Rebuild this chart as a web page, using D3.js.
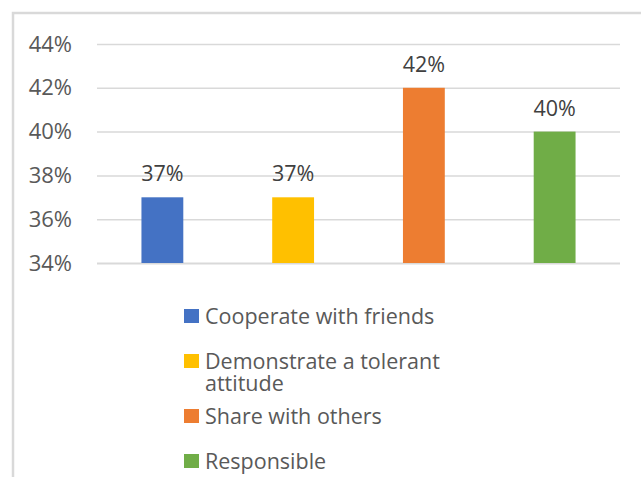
<!DOCTYPE html>
<html lang="en">
<head>
    <meta charset="UTF-8">
    <script src="https://d3js.org/d3.v7.min.js"></script>
    <style>
        body {margin: 0; background-color: #ffffff;}
        svg {display: block; font-family: "Open Sans", sans-serif;}
    </style>
</head>
<body>
<svg class="chart"></svg>
<script type="text/javascript">
    const categories = ["Cooperate with friends", "Demonstrate a tolerant attitude", "Share with others", "Responsible"];
    const values = [37, 37, 42, 40];
    const colors = ["#4472C4", "#FFC000", "#ED7D31", "#70AD47"];
    const yTicks = [34, 36, 38, 40, 42, 44];
    // legend text as it wraps in the picture
    const legendLines = [["Cooperate with friends"], ["Demonstrate a tolerant", "attitude"], ["Share with others"], ["Responsible"]];

    let width = 641;
    let height = 477;
    let plotLeft = 97, plotRight = 620, plotTop = 44, plotBottom = 263;

    var svg = d3.select(".chart")
        .attr("width", width)
        .attr("height", height);

    // frame
    svg.append("path")
        .attr("d", "M13," + height + " L13,13 L" + width + ",13")
        .attr("fill", "none")
        .attr("stroke", "#d9d9d9")
        .attr("stroke-width", 2.5);

    var x = d3.scaleBand()
        .domain(categories)
        .range([plotLeft, plotRight])
        .paddingInner(0.68)
        .paddingOuter(0.34);

    var y = d3.scaleLinear()
        .domain([34, 44])
        .range([plotBottom, plotTop]);

    var yAxis = svg.append("g")
        .attr("transform", "translate(" + plotLeft + ",0)")
        .call(d3.axisLeft(y)
            .tickValues(yTicks)
            .tickSize(-(plotRight - plotLeft))
            .tickPadding(25)
            .tickFormat(d => d + "%"));

    yAxis.select(".domain").remove();
    yAxis.selectAll(".tick line")
        .attr("stroke", "#d9d9d9")
        .attr("stroke-width", d => d === 34 ? 2 : 1.5);
    yAxis.selectAll(".tick text")
        .attr("fill", "#595959")
        .attr("font-size", "22px")
        .attr("font-family", "\"Open Sans\", sans-serif");

    svg.selectAll(".bar")
        .data(values)
        .enter()
        .append("rect")
        .attr("class", "bar")
        .attr("x", (d, i) => x(categories[i]))
        .attr("width", x.bandwidth())
        .attr("y", d => y(d))
        .attr("height", d => y(34) - y(d))
        .attr("fill", (d, i) => colors[i]);

    svg.selectAll(".value")
        .data(values)
        .enter()
        .append("text")
        .attr("class", "value")
        .attr("x", (d, i) => x(categories[i]) + x.bandwidth() / 2)
        .attr("y", d => y(d) - 16)
        .attr("text-anchor", "middle")
        .attr("fill", "#404040")
        .attr("font-size", "21.5px")
        .text(d => d + "%");

    // legend rows: fixed step, plus some room for each wrapped line
    let rowStep = 45, wrapExtra = 10, lineHeight = 22;
    let legendPos = [];
    let cy = 324;
    legendLines.forEach((lines, i) => {
        legendPos.push(cy);
        cy += rowStep + (lines.length - 1) * wrapExtra;
    });

    var legend = svg.selectAll(".legend")
        .data(categories)
        .enter()
        .append("g")
        .attr("class", "legend")
        .attr("transform", (d, i) => "translate(184," + legendPos[i] + ")");

    legend.append("rect")
        .attr("x", 0)
        .attr("y", -15)
        .attr("width", 15)
        .attr("height", 14)
        .attr("fill", (d, i) => colors[i]);

    legend.each(function (d, i) {
        var t = d3.select(this).append("text")
            .attr("x", 21)
            .attr("y", 0)
            .attr("fill", "#595959")
            .attr("font-size", "21.5px");
        legendLines[i].forEach((line, j) => {
            t.append("tspan")
                .attr("x", 21)
                .attr("dy", j === 0 ? 0 : lineHeight)
                .text(line);
        });
    });
</script>
</body>
</html>
